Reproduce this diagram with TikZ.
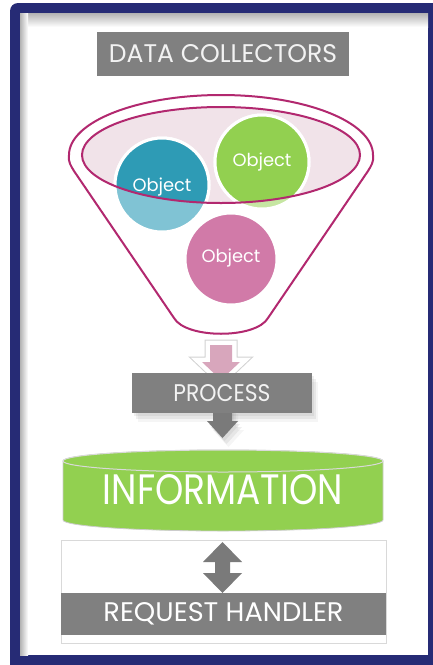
\documentclass[tikz,border=0pt]{standalone}
\usepackage{fontspec}
\setmainfont{Poppins}
\usetikzlibrary{positioning,shadows}
\definecolor{frameblue}{HTML}{262B75}
\definecolor{boxgray}{HTML}{808080}
\definecolor{arrowgray}{HTML}{7A7A7A}
\definecolor{funnelpink}{HTML}{B2286F}
\definecolor{bowlpink}{HTML}{F1E3E9}
\definecolor{tealdark}{HTML}{2E9BB5}
\definecolor{teallight}{HTML}{80C3D4}
\definecolor{greendark}{HTML}{92D050}
\definecolor{greenlight}{HTML}{C6E6A2}
\definecolor{objpink}{HTML}{D17AA8}
\definecolor{arrowpink}{HTML}{D8A6BC}
% text squeezed to the width and cap height of the picture
\newcommand{\fittext}[3]{\resizebox{#1}{#2}{#3}}
\tikzset{
  graybox/.style={
    fill=boxgray,
    text=white!95!black,
    inner sep=0pt
  },
  softshadow/.style={
    drop shadow={shadow xshift=1pt, shadow yshift=-1.5pt, opacity=0.12},
    drop shadow={shadow xshift=2pt, shadow yshift=-3pt, opacity=0.12},
    drop shadow={shadow xshift=3pt, shadow yshift=-4.5pt, opacity=0.08}
  },
  objcircle/.style={
    circle,
    draw=white,
    line width=1.5pt,
    minimum size=47pt,
    inner sep=0pt
  },
  objlabel/.style={text=white, inner sep=0pt}
}

\begin{document}
\begin{tikzpicture}[x=0.5pt, y=-0.5pt]
  \useasboundingbox (0,0) rectangle (433,665);

  % frame
  \fill[frameblue, rounded corners=4pt] (10,3) rectangle (445,675);
  \fill[white] (20,13) rectangle (428,655);
  \shade[top color=black!30, bottom color=white] (20,13) rectangle (428,27);
  \shade[left color=black!30, right color=white] (20,13) rectangle (28,655);

  % data collectors
  \node[graybox, minimum width=126pt, minimum height=22pt] (collect) at (223,54)
    {\fittext{114pt}{9pt}{DATA COLLECTORS}};

  % funnel
  \fill[bowlpink] (221,155) ellipse [x radius=139, y radius=48];
  \node[objcircle, fill=teallight] (obj1) at (162,185) {};
  \node[objcircle, fill=greenlight] (obj2) at (262,162) {};
  \node[objcircle, fill=objpink, minimum size=46pt] (obj3) at (231,259) {};
  \begin{scope}
    \clip (221,155) ellipse [x radius=139, y radius=48];
    \node[objcircle, fill=tealdark] (obj1in) at (obj1) {};
    \node[objcircle, fill=greendark] (obj2in) at (obj2) {};
  \end{scope}
  \draw[funnelpink, line width=1pt] (221,155) ellipse [x radius=139, y radius=48];
  \draw[funnelpink, line width=1pt] (69,155)
    arc[start angle=180, end angle=360, x radius=152, y radius=60]
    .. controls (374,162) and (371,166) .. (368,171) -- (268,318)
    .. controls (256,339) and (186,339) .. (174,318) -- (74,171)
    .. controls (71,166) and (68,162) .. (69,155);
  \node[objlabel] (obj1text) at (162,187) {\fittext{29.5pt}{!}{Object}};
  \node[objlabel] (obj2text) at (262,162) {\fittext{29.5pt}{!}{Object}};
  \node[objlabel] (obj3text) at (231,258) {\fittext{29.5pt}{!}{Object}};

  % arrow into process
  \draw[gray!35, line width=5.5pt]
    (210,345) -- (232,345) -- (232,362) -- (240,362) -- (221,380) -- (202,362) -- (210,362) -- cycle;
  \draw[white, line width=4.5pt]
    (210,345) -- (232,345) -- (232,362) -- (240,362) -- (221,380) -- (202,362) -- (210,362) -- cycle;
  \fill[arrowpink]
    (210,345) -- (232,345) -- (232,362) -- (240,362) -- (221,380) -- (202,362) -- (210,362) -- cycle;

  % arrow out of process
  \fill[arrowgray, softshadow]
    (213,405) -- (232,405) -- (232,421) -- (238,421) -- (222.5,438) -- (207,421) -- (213,421) -- cycle;

  % process
  \node[graybox, minimum width=90pt, minimum height=20pt, softshadow] (process) at (222,393)
    {\fittext{48.5pt}{8.5pt}{PROCESS}};

  % information store
  \fill[greendark, draw=black!20, line width=0.4pt] (63,461) -- (63,520)
    arc[start angle=180, end angle=0, x radius=160, y radius=11] -- (383,461)
    arc[start angle=0, end angle=-180, x radius=160, y radius=11] -- cycle;
  \draw[white!85!black, fill=greendark, line width=0.5pt] (223,461) ellipse [x radius=160, y radius=11];
  \node[objlabel] (info) at (223,490) {\fittext{120pt}{15pt}{INFORMATION}};

  % request handler
  \node[draw=black!15, line width=0.5pt, minimum width=162.5pt, minimum height=51.5pt, inner sep=0pt]
    (handlerbox) at (223.5,591.5) {};
  \node[graybox, text=white, minimum width=162.5pt, minimum height=21pt] (handler) at (223.5,614)
    {\fittext{120pt}{9.5pt}{REQUEST HANDLER}};
  \fill[arrowgray] (222.5,542) -- (242,562) -- (230,562) -- (230,573) -- (242,573)
    -- (222.5,593) -- (203,573) -- (215,573) -- (215,562) -- (203,562) -- cycle;
\end{tikzpicture}
\end{document}
